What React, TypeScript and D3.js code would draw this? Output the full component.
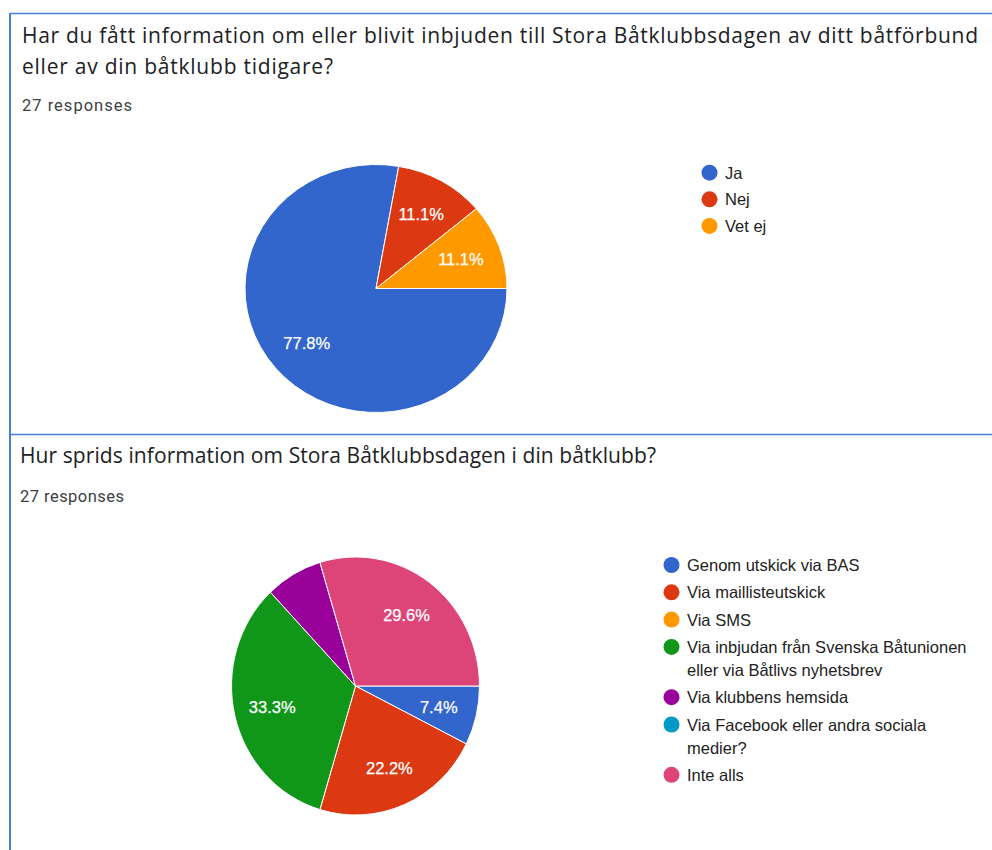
import React from "react";
import * as d3 from "d3";

const W = 992;
const H = 850;

const q1Title = [
  "Har du fått information om eller blivit inbjuden till Stora Båtklubbsdagen av ditt båtförbund",
  "eller av din båtklubb tidigare?",
];
const q1TitleWidths = [956, 311];
const q1Responses = "27 responses";
const q1Categories = ["Ja", "Nej", "Vet ej"];
const q1Counts = [21, 3, 3];
const q1Colors = ["#3366cc", "#dc3912", "#ff9900"];

const q2Title = ["Hur sprids information om Stora Båtklubbsdagen i din båtklubb?"];
const q2TitleWidths = [636];
const q2Responses = "27 responses";
const q2Categories = [
  ["Genom utskick via BAS"],
  ["Via maillisteutskick"],
  ["Via SMS"],
  ["Via inbjudan från Svenska Båtunionen", "eller via Båtlivs nyhetsbrev"],
  ["Via klubbens hemsida"],
  ["Via Facebook eller andra sociala", "medier?"],
  ["Inte alls"],
];
const q2Counts = [2, 6, 0, 9, 2, 0, 8];
const q2Colors = ["#3366cc", "#dc3912", "#ff9900", "#109618", "#990099", "#0099c6", "#dd4477"];

const TITLE_FONT = "'Open Sans', sans-serif";
const BODY_FONT = "'Liberation Sans', Arial, sans-serif";

type PieProps = {
  counts: number[];
  colors: string[];
  cx: number;
  cy: number;
  rx: number;
  ry: number;
  hideLabels?: number[];
};

function Pie({ counts, colors, cx, cy, rx, ry, hideLabels = [] }: PieProps) {
  const total = d3.sum(counts);
  const pieGen = d3
    .pie<number>()
    .sort(null)
    .value((d) => d)
    .startAngle(Math.PI / 2)
    .endAngle(Math.PI / 2 + 2 * Math.PI);
  const arcs = pieGen(counts);
  const arcGen = d3.arc<d3.PieArcDatum<number>>().innerRadius(0).outerRadius(rx);
  const fmt = d3.format(".1f");
  return (
    <g>
      <g transform={`translate(${cx},${cy}) scale(1,${ry / rx})`}>
        {arcs
          .filter((a) => a.value > 0)
          .map((a, i) => (
            <path
              key={i}
              d={arcGen(a) || ""}
              fill={colors[a.index]}
              stroke="#ffffff"
              strokeWidth={1}
              vectorEffect="non-scaling-stroke"
            />
          ))}
      </g>
      {arcs
        .filter((a) => a.value > 0 && hideLabels.indexOf(a.index) < 0)
        .map((a, i) => {
          const mid = (a.startAngle + a.endAngle) / 2;
          const x = cx + 0.69 * rx * Math.sin(mid);
          const y = cy - 0.69 * ry * Math.cos(mid);
          return (
            <text
              key={i}
              x={x}
              y={y}
              textAnchor="middle"
              dominantBaseline="central"
              fill="#ffffff"
              fontFamily={BODY_FONT}
              fontSize={16.5}
              stroke="#ffffff"
              strokeWidth={0.25}
            >
              {fmt((a.value / total) * 100)}%
            </text>
          );
        })}
    </g>
  );
}

export default function App() {
  const borderColor = "#4a7fd4";
  const legendTextColor = "#222222";
  return (
    <svg
      width={W}
      height={H}
      style={{ position: "absolute", left: 0, top: 0, background: "#ffffff" }}
    >
      <rect x={0} y={0} width={W} height={H} fill="#ffffff" />
      {/* borders */}
      <line x1={10} y1={13.5} x2={W} y2={13.5} stroke={borderColor} strokeWidth={1.5} />
      <line x1={10} y1={434.5} x2={W} y2={434.5} stroke={borderColor} strokeWidth={1.5} />
      <line x1={10} y1={13} x2={10} y2={H} stroke={borderColor} strokeWidth={2} />

      {/* Question 1 */}
      {q1Title.map((t, i) => (
        <text
          key={i}
          x={22}
          y={43 + i * 30.5}
          fontFamily={TITLE_FONT}
          fontSize={21}
          fill="#202124"
          textLength={q1TitleWidths[i]}
          lengthAdjust="spacing"
        >
          {t}
        </text>
      ))}
      <text
        x={22}
        y={111}
        fontFamily="Roboto, sans-serif"
        fontSize={16.5}
        fill="#3c4043"
        textLength={110}
        lengthAdjust="spacing"
      >
        {q1Responses}
      </text>
      <Pie counts={q1Counts} colors={q1Colors} cx={376} cy={288.5} rx={131} ry={124} />
      {q1Categories.map((c, i) => (
        <g key={i} transform={`translate(0,${172.7 + i * 26.6})`}>
          <circle cx={709.5} cy={0} r={8} fill={q1Colors[i]} />
          <text
            x={725}
            y={0}
            dominantBaseline="central"
            fontFamily={BODY_FONT}
            fontSize={16.5}
            fill={legendTextColor}
          >
            {c}
          </text>
        </g>
      ))}

      {/* Question 2 */}
      {q2Title.map((t, i) => (
        <text
          key={i}
          x={20}
          y={463}
          fontFamily={TITLE_FONT}
          fontSize={21}
          fill="#202124"
          textLength={q2TitleWidths[i]}
          lengthAdjust="spacing"
        >
          {t}
        </text>
      ))}
      <text
        x={20}
        y={501.5}
        fontFamily="Roboto, sans-serif"
        fontSize={16.5}
        fill="#3c4043"
        textLength={104}
        lengthAdjust="spacing"
      >
        {q2Responses}
      </text>
      <Pie
        counts={q2Counts}
        colors={q2Colors}
        cx={355.5}
        cy={686}
        rx={124}
        ry={129}
        hideLabels={[4]}
      />
      {(() => {
        let y = 565;
        return q2Categories.map((lines, i) => {
          const y0 = y;
          y += 27.3 + (lines.length - 1) * 23;
          return (
            <g key={i} transform={`translate(0,${y0})`}>
              <circle cx={671.5} cy={0} r={8} fill={q2Colors[i]} />
              {lines.map((ln, j) => (
                <text
                  key={j}
                  x={687}
                  y={j * 23}
                  dominantBaseline="central"
                  fontFamily={BODY_FONT}
                  fontSize={16.5}
                  fill={legendTextColor}
                >
                  {ln}
                </text>
              ))}
            </g>
          );
        });
      })()}
    </svg>
  );
}
